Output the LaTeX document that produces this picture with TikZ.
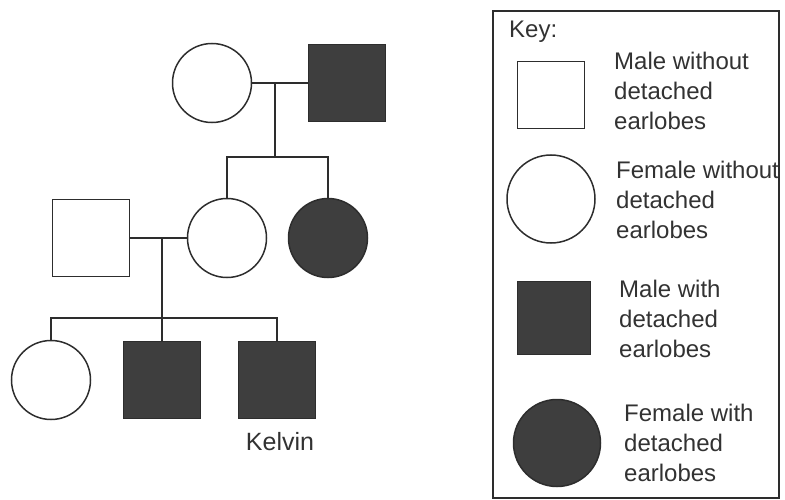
\documentclass[tikz,border=0pt]{standalone}
\usepackage{fontspec}
\setmainfont{Liberation Sans}
\usepackage{tikz}
\usetikzlibrary{arrows,calc,positioning,shapes}
\tikzset{
  pednode/.style = {align=center, inner sep=0pt, draw=my_line, line width=1.5pt, fill=white},
  ped_m/.style = {pednode, rectangle, minimum size=77pt},
  ped_f/.style = {pednode, circle, minimum size=79pt},
  keytext/.style = {align=left, inner sep=0pt, anchor=north west, text=my_text,
  font=\fontsize{24}{30}\selectfont}
}
\definecolor{my_line}{RGB}{45, 45, 45}
\definecolor{my_dark}{RGB}{62, 62, 62}
\definecolor{my_text}{RGB}{50, 50, 50}

\begin{document}
\begin{tikzpicture}[x=1pt,y=-1pt,
        	affected/.style={fill=my_dark},
        	link/.style={draw=my_line, line width=1.5pt}]
    \useasboundingbox (0,0) rectangle (785,500);
    % first generation
    \node [ped_f] (gm) at (212,83) {};
    \node [ped_m, affected] (gf) at (347,83) {};
    \coordinate (m1) at (275,83);
    \coordinate (s1) at (275,157);
    % second generation
    \node [ped_m] (dad) at (91,238) {};
    \node [ped_f] (mum) at (227,238) {};
    \node [ped_f, affected] (aunt) at (328,238) {};
    \coordinate (m2) at (162,238);
    \coordinate (s2) at (162,318);
    % third generation
    \node [ped_f] (sis) at (51,380) {};
    \node [ped_m, affected] (bro) at (162,380) {};
    \node [ped_m, affected] (kelvin) at (277,380) {};
    \node [text=my_text, font=\fontsize{25}{28}\selectfont, below=10pt of kelvin, xshift=3pt] (kname) {Kelvin};
    % connectors
    \draw [link] (gm) -- (gf);
    \draw [link] (m1) -- (s1);
    \draw [link] (mum.north) |- (s1) -| (aunt.north);
    \draw [link] (dad) -- (mum);
    \draw [link] (m2) -- (bro.north);
    \draw [link] (sis.north) |- (s2) -| (kelvin.north);
    % key
    \draw [draw=my_line, line width=1.5pt] (493,11) rectangle (779,498);
    \node [keytext] (keyhead) at (509,21) {Key:};
    \node [ped_m, minimum size=67pt] (k1) at (551,95) {};
    \node [keytext] (k1t) at (614,52) {Male without\\detached\\earlobes};
    \node [ped_f, minimum size=88pt] (k2) at (551,199) {};
    \node [keytext] (k2t) at (616,161) {Female without\\detached\\earlobes};
    \node [ped_m, affected, minimum size=73pt] (k3) at (554,318) {};
    \node [keytext] (k3t) at (619,280) {Male with\\detached\\earlobes};
    \node [ped_f, affected, minimum size=87pt] (k4) at (557,443) {};
    \node [keytext] (k4t) at (624,404) {Female with\\detached\\earlobes};
\end{tikzpicture}
\end{document}
